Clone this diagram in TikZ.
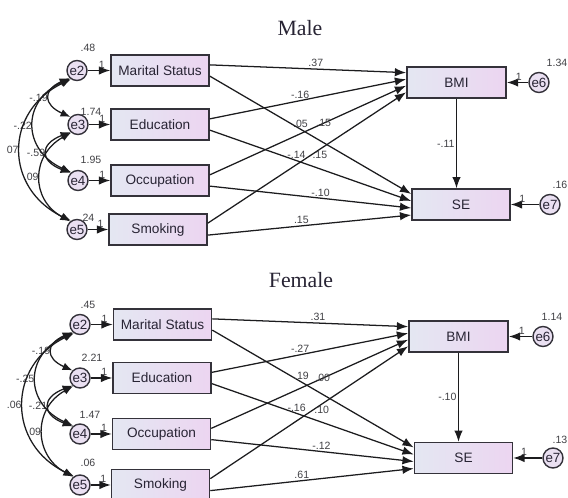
\documentclass[tikz,border=0pt]{standalone}
\usepackage{fontspec}
\setmainfont{Liberation Sans}
\newfontfamily\titlefont{Liberation Serif}
\usetikzlibrary{arrows.meta}
\definecolor{boxLeft}{RGB}{228,231,242}
\definecolor{boxRight}{RGB}{236,213,241}
\definecolor{errFill}{RGB}{234,224,242}
\definecolor{boxEdge}{RGB}{52,50,58}
\definecolor{lineDark}{RGB}{28,28,30}
\definecolor{textDark}{RGB}{40,36,52}
\definecolor{textMute}{RGB}{64,64,68}

\tikzset{
  varbox/.style={draw=boxEdge, line width=1.1pt, left color=boxLeft, right color=boxRight,
    minimum width=2.45cm, minimum height=0.77cm, inner sep=0pt,
    font=\fontsize{9.7}{11}\selectfont, text=textDark},
  errnode/.style={circle, draw=boxEdge, line width=1pt, fill=errFill, minimum size=0.5cm,
    inner sep=0pt, font=\fontsize{9.5}{10}\selectfont, text=textDark},
  regarrow/.style={draw=lineDark, line width=0.9pt, -{Latex[length=8pt,width=6pt]}},
  covarrow/.style={draw=lineDark, line width=0.9pt,
    {Latex[length=7pt,width=5.5pt]}-{Latex[length=7pt,width=5.5pt]}},
  coef/.style={font=\fontsize{7.5}{8}\selectfont, text=textMute, inner sep=1pt},
  paneltitle/.style={font=\titlefont\fontsize{15.5}{17}\selectfont, text=textDark}
}

\begin{document}
\begin{tikzpicture}[x=0.025cm, y=0.025cm]
\useasboundingbox (0,0) rectangle (568,-498);

% ---------------- Male ----------------
\node[paneltitle] (mTitle) at (300,-28) {Male};

\node[varbox] (mMS)  at (160,-70.5)  {Marital Status};
\node[varbox] (mEdu) at (160,-124.5) {Education};
\node[varbox] (mOcc) at (160,-180.5) {Occupation};
\node[varbox] (mSmk) at (158,-229.5) {Smoking};
\node[varbox, minimum width=2.48cm] (mBMI) at (456.5,-82.5) {BMI};
\node[varbox] (mSE)  at (461,-204.5) {SE};

\node[errnode] (me2) at (77,-70.5)  {e2};
\node[errnode] (me3) at (78,-124.5) {e3};
\node[errnode] (me4) at (78,-180.5) {e4};
\node[errnode] (me5) at (77,-229.5) {e5};
\node[errnode] (me6) at (539,-82.5) {e6};
\node[errnode] (me7) at (550,-204.5) {e7};

% variances
\node[coef] at (88,-48) {.48};
\node[coef] at (91,-111.5) {1.74};
\node[coef] at (91,-160) {1.95};
\node[coef] at (87,-218) {.24};
\node[coef] at (557,-63) {1.34};
\node[coef] at (560,-185) {.16};

% error terms
\draw[regarrow] (me2.east) -- node[coef, pos=0.63, above] {1} (mMS.west);
\draw[regarrow] (me3.east) -- node[coef, pos=0.63, above] {1} (mEdu.west);
\draw[regarrow] (me4.east) -- node[coef, pos=0.63, above] {1} (mOcc.west);
\draw[regarrow] (me5.east) -- node[coef, pos=0.63, above] {1} (mSmk.west);
\draw[regarrow] (me6.west) -- node[coef, pos=0.44, above] {1} (mBMI.east);
\draw[regarrow] (me7.west) -- node[coef, pos=0.6, above] {1} (mSE.east);

% covariances
\draw[covarrow] (me2.225) .. controls +(-27,-12) and +(-27,12) .. node[coef, midway, left] {-.19} (me3.135);
\draw[covarrow] (me3.225) .. controls +(-31,-12) and +(-31,12) .. node[coef, midway, left] {-.59} (me4.135);
\draw[covarrow] (me2.230) .. controls +(-49,-22) and +(-49,22) .. node[coef, midway, left] {-.22} (me4.130);
\draw[covarrow] (me3.230) .. controls +(-40,-22) and +(-40,22) .. node[coef, midway, left] {.09} (me5.130);
\draw[covarrow] (me2.235) .. controls +(-67,-32) and +(-67,32) .. node[coef, midway, left] {07} (me5.125);

% paths
\draw[regarrow] ([yshift=4pt]mMS.east)  -- node[coef, pos=0.54, above] {.37} ([yshift=7pt]mBMI.west);
\draw[regarrow] ([yshift=4pt]mEdu.east) -- node[coef, pos=0.46, above] {-.16} ([yshift=2.3pt]mBMI.west);
\draw[regarrow] ([yshift=4pt]mOcc.east) -- node[coef, pos=0.58] {.15} ([yshift=-2.3pt]mBMI.west);
\draw[regarrow] ([yshift=4.5pt]mSmk.east) -- node[coef, pos=0.565, below] {.15} ([yshift=-7pt]mBMI.west);
\draw[regarrow] ([yshift=-4pt]mMS.east)  -- node[coef, pos=0.45, above] {.05} ([yshift=7.5pt]mSE.west);
\draw[regarrow] ([yshift=-4pt]mEdu.east) -- node[coef, pos=0.43, above] {-.14} ([yshift=2.5pt]mSE.west);
\draw[regarrow] ([yshift=-4pt]mOcc.east) -- node[coef, pos=0.55, above] {-.10} ([yshift=-2.5pt]mSE.west);
\draw[regarrow] ([yshift=-4pt]mSmk.east) -- node[coef, pos=0.46, above] {.15} ([yshift=-7.5pt]mSE.west);
\draw[regarrow] (mBMI.south) -- node[coef, midway, left] {-.11} (mBMI.south |- mSE.north);

% ---------------- Female ----------------
\node[paneltitle] (fTitle) at (301,-280) {Female};

\node[varbox] (fMS)  at (162.5,-324.5) {Marital Status};
\node[varbox] (fEdu) at (162,-378)     {Education};
\node[varbox] (fOcc) at (161.5,-434)   {Occupation};
\node[varbox] (fSmk) at (160.5,-485)   {Smoking};
\node[varbox, minimum width=2.48cm] (fBMI) at (458.5,-336.5) {BMI};
\node[varbox] (fSE)  at (463.5,-458) {SE};

\node[errnode] (fe2) at (80,-324.5) {e2};
\node[errnode] (fe3) at (80,-378)   {e3};
\node[errnode] (fe4) at (80,-434)   {e4};
\node[errnode] (fe5) at (80,-485)   {e5};
\node[errnode] (fe6) at (543,-336.5) {e6};
\node[errnode] (fe7) at (553,-458)   {e7};

% variances
\node[coef] at (88,-304.5) {.45};
\node[coef] at (92,-358) {2.21};
\node[coef] at (90,-415) {1.47};
\node[coef] at (88,-463) {.06};
\node[coef] at (552,-317) {1.14};
\node[coef] at (560,-440) {.13};

% error terms
\draw[regarrow] (fe2.east) -- node[coef, pos=0.63, above] {1} (fMS.west);
\draw[regarrow] (fe3.east) -- node[coef, pos=0.63, above] {1} (fEdu.west);
\draw[regarrow] (fe4.east) -- node[coef, pos=0.63, above] {1} (fOcc.west);
\draw[regarrow] (fe5.east) -- node[coef, pos=0.63, above] {1} (fSmk.west);
\draw[regarrow] (fe6.west) -- node[coef, pos=0.45, above] {1} (fBMI.east);
\draw[regarrow] (fe7.west) -- node[coef, pos=0.63, above] {1} (fSE.east);

% covariances
\draw[covarrow] (fe2.225) .. controls +(-27,-12) and +(-27,12) .. node[coef, midway, left] {-.19} (fe3.135);
\draw[covarrow] (fe3.225) .. controls +(-31,-12) and +(-31,12) .. node[coef, midway, left] {-.21} (fe4.135);
\draw[covarrow] (fe2.230) .. controls +(-49,-22) and +(-49,22) .. node[coef, midway, left] {-.25} (fe4.130);
\draw[covarrow] (fe3.230) .. controls +(-40,-22) and +(-40,22) .. node[coef, midway, left] {.09} (fe5.130);
\draw[covarrow] (fe2.235) .. controls +(-67,-32) and +(-67,32) .. node[coef, midway, left] {.06} (fe5.125);

% paths
\draw[regarrow] ([yshift=4pt]fMS.east)  -- node[coef, pos=0.54, above] {.31} ([yshift=7pt]fBMI.west);
\draw[regarrow] ([yshift=4pt]fEdu.east) -- node[coef, pos=0.45, above] {-.27} ([yshift=2.3pt]fBMI.west);
\draw[regarrow] ([yshift=4pt]fOcc.east) -- node[coef, pos=0.566] {.00} ([yshift=-2.3pt]fBMI.west);
\draw[regarrow] ([yshift=4.5pt]fSmk.east) -- node[coef, pos=0.563, below] {.10} ([yshift=-7pt]fBMI.west);
\draw[regarrow] ([yshift=-4pt]fMS.east)  -- node[coef, pos=0.443, above] {.19} ([yshift=7.5pt]fSE.west);
\draw[regarrow] ([yshift=-4pt]fEdu.east) -- node[coef, pos=0.42, above] {-.16} ([yshift=2.5pt]fSE.west);
\draw[regarrow] ([yshift=-4pt]fOcc.east) -- node[coef, pos=0.544, above] {-.12} ([yshift=-2.5pt]fSE.west);
\draw[regarrow] ([yshift=-4pt]fSmk.east) -- node[coef, pos=0.45, above] {.61} ([yshift=-7.5pt]fSE.west);
\draw[regarrow] (fBMI.south) -- node[coef, midway, left] {-.10} (fBMI.south |- fSE.north);

\end{tikzpicture}
\end{document}
